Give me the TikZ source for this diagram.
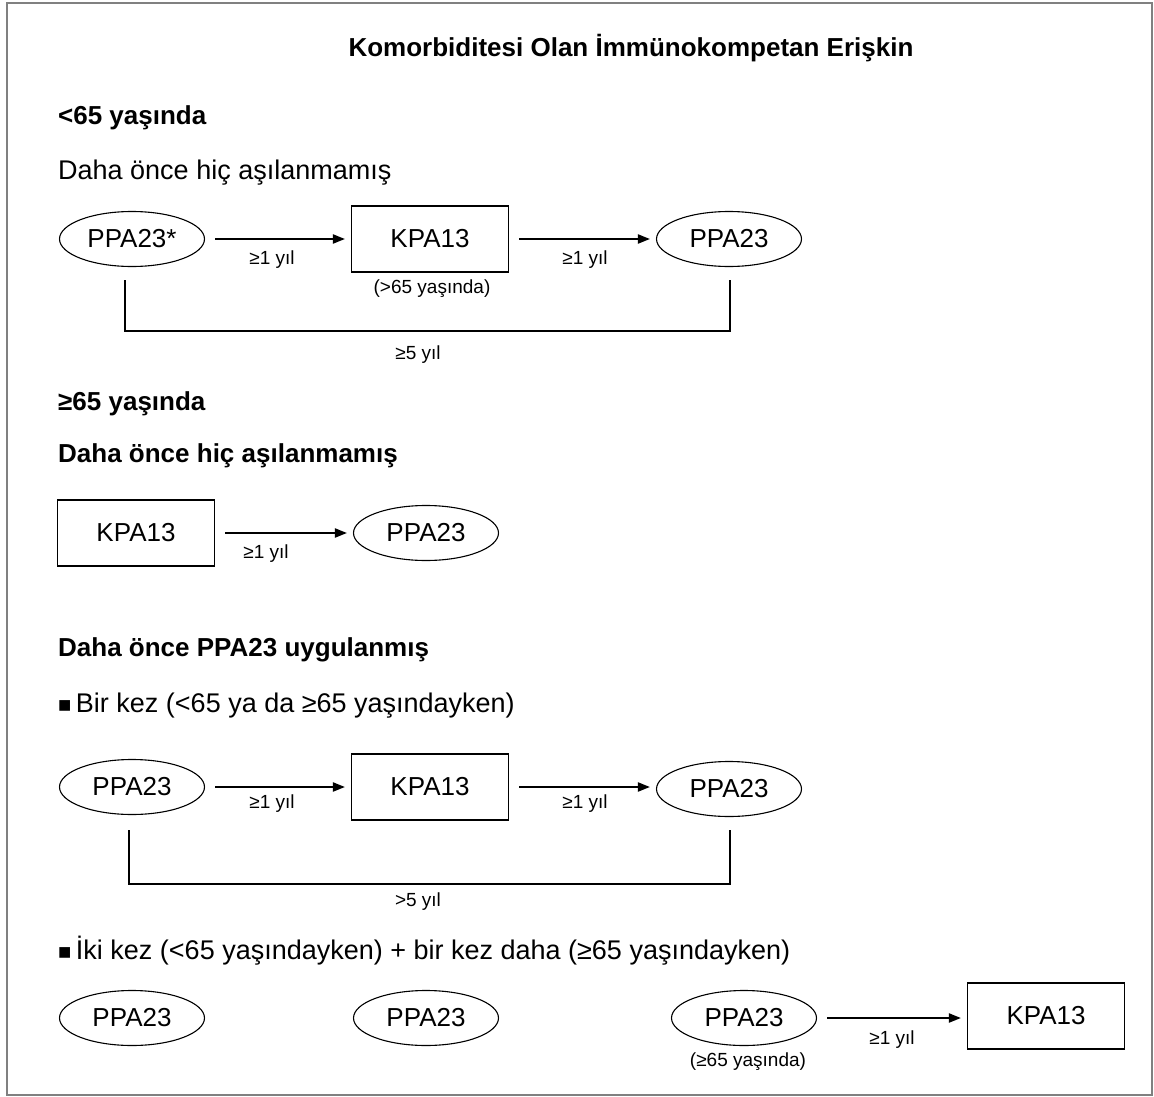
\documentclass[tikz,border=0pt]{standalone}
\usepackage{fontspec}
\setmainfont{Liberation Sans}
\usetikzlibrary{shapes.geometric,arrows.meta}

\tikzset{
  asi/.style={draw, ellipse, minimum width=145pt, minimum height=55pt, inner sep=0pt, line width=1.1pt, font=\fontsize{26}{28}\selectfont},
  kutu/.style={draw, rectangle, minimum width=157pt, minimum height=66pt, inner sep=0pt, line width=1.1pt, font=\fontsize{26}{28}\selectfont},
  ok/.style={-{Triangle[length=12pt,width=9pt]}, line width=2pt, shorten <=10pt, shorten >=6pt},
  etiket/.style={font=\fontsize{19}{22}\selectfont},
  baslik/.style={anchor=west, inner xsep=0pt, font=\fontsize{26}{30}\selectfont\bfseries},
  metin/.style={anchor=west, inner xsep=0pt, font=\fontsize{27}{30}\selectfont},
  ayrac/.style={line width=1.1pt}
}
\newcommand{\kare}{{\fontsize{22}{24}\selectfont ■}}

\begin{document}
\begin{tikzpicture}[x=1pt,y=-1pt]
\useasboundingbox (0,0) rectangle (1154,1097);
\draw[line width=1.5pt, gray] (7,3) rectangle (1152,1095);
\node[font=\fontsize{26}{30}\selectfont\bfseries] (title) at (631,48) {Komorbiditesi Olan İmmünokompetan Erişkin};

\node[baslik] (h1) at (58,118) {<65 yaşında};
\node[metin] (t1) at (58,173) {Daha önce hiç aşılanmamış};
\node[asi] (e1) at (132,239) {PPA23*};
\node[kutu] (r1) at (430,239) {KPA13};
\node[asi] (e2) at (729,239) {PPA23};
\draw[ok] (e1.east) -- (r1.west);
\draw[ok] (r1.east) -- (e2.west);
\node[etiket] (l1) at (272,260) {≥1 yıl};
\node[etiket] (l2) at (585,260) {≥1 yıl};
\node[etiket] (n1) at (432,289) {(>65 yaşında)};
\coordinate (g1) at (125,280);
\coordinate (g2) at (730,280);
\draw[ayrac] (g1) -- ++(0,51) -| (g2);
\node[etiket] (l3) at (418,355) {≥5 yıl};

\node[baslik] (h2) at (58,404) {≥65 yaşında};
\node[baslik] (h3) at (58,456) {Daha önce hiç aşılanmamış};
\node[kutu] (r2) at (136,533) {KPA13};
\node[asi] (e3) at (426,533) {PPA23};
\draw[ok] (r2.east) -- (e3.west);
\node[etiket] (l4) at (266,554) {≥1 yıl};

\node[baslik] (h4) at (58,650) {Daha önce PPA23 uygulanmış};
\node[metin] (t2) at (58,706) {\kare\,Bir kez (<65 ya da ≥65 yaşındayken)};
\node[asi] (e4) at (132,787) {PPA23};
\node[kutu] (r3) at (430,787) {KPA13};
\node[asi] (e5) at (729,789) {PPA23};
\draw[ok] (e4.east) -- (r3.west);
\draw[ok] (r3.east) -- (e5.west |- r3.east);
\node[etiket] (l5) at (272,804) {≥1 yıl};
\node[etiket] (l6) at (585,804) {≥1 yıl};
\coordinate (g3) at (129,830);
\coordinate (g4) at (730,830);
\draw[ayrac] (g3) -- ++(0,54) -| (g4);
\node[etiket] (l7) at (418,902) {>5 yıl};

\node[metin] (t3) at (58,951) {\kare\,İki kez (<65 yaşındayken) + bir kez daha (≥65 yaşındayken)};
\node[asi] (e6) at (132,1018) {PPA23};
\node[asi] (e7) at (426,1018) {PPA23};
\node[asi] (e8) at (744,1018) {PPA23};
\node[kutu] (r4) at (1046,1016) {KPA13};
\draw[ok] (e8.east) -- (e8.east -| r4.west);
\node[etiket] (l8) at (892,1040) {≥1 yıl};
\node[etiket] (n2) at (748,1062) {(≥65 yaşında)};
\end{tikzpicture}
\end{document}
